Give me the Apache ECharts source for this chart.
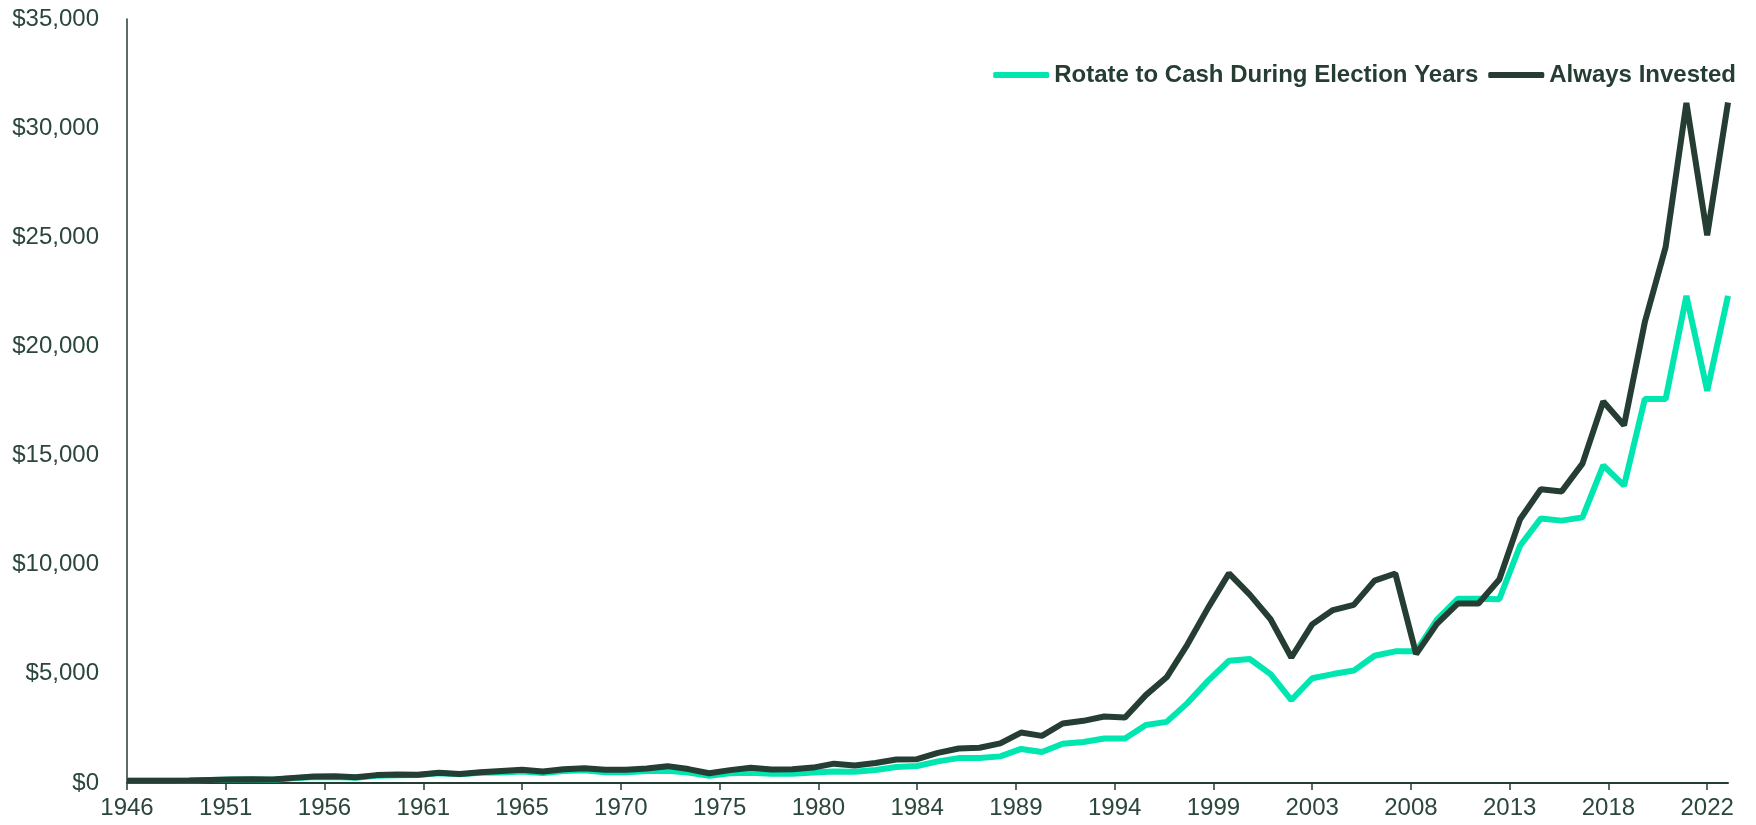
<!DOCTYPE html>
<html lang="en">
<head>
  <meta charset="UTF-8">
  <title>Rotate to Cash vs Always Invested</title>
  <script src="https://cdn.jsdelivr.net/npm/echarts@6/dist/echarts.min.js"></script>
  <style>
    html, body { margin: 0; padding: 0; background: #fff; }
    #chart { width: 1756px; height: 825px; }
  </style>
</head>
<body>
  <div id="chart"></div>
  <script>
    // years 1946..2023, year-end values
    var years = [];
    for (var y = 1946; y <= 2023; y++) years.push(y);

    var alwaysInvested = [
      100, 100, 99, 110, 133, 155, 174, 162, 235, 297,
      305, 261, 361, 391, 380, 468, 412, 490, 554, 604,
      525, 631, 679, 602, 602, 667, 772, 638, 448, 589,
      702, 622, 628, 706, 887, 801, 919, 1078, 1093, 1381,
      1583, 1615, 1815, 2310, 2158, 2726, 2848, 3049, 3002, 4026,
      4841, 6343, 8034, 9603, 8629, 7504, 5750, 7267, 7921, 8159,
      9270, 9597, 5904, 7288, 8220, 8220, 9322, 12081, 13457, 13359,
      14633, 17475, 16385, 21117, 24550, 31151, 25095, 31176
    ];

    var rotateToCash = [
      100, 100, 100, 110, 133, 155, 158, 147, 213, 269,
      276, 236, 327, 354, 364, 448, 395, 469, 485, 528,
      459, 552, 580, 495, 490, 545, 565, 475, 335, 450,
      475, 420, 420, 480, 530, 520, 600, 730, 780, 990,
      1140, 1150, 1220, 1560, 1420, 1800, 1880, 2040, 2040, 2660,
      2800, 3660, 4690, 5600, 5680, 4990, 3800, 4800, 4990, 5150,
      5830, 6030, 6030, 7480, 8440, 8440, 8420, 10870, 12120, 12020,
      12170, 14550, 13620, 17590, 17590, 22320, 17970, 22320
    ];

    // axis labels sit every 4.75 years, like the original date axis
    var xTickLabels = ['1946', '1951', '1956', '1961', '1965', '1970', '1975', '1980', '1984',
      '1989', '1994', '1999', '2003', '2008', '2013', '2018', '2022'];
    var xTickValues = xTickLabels.map(function (s, k) { return 1946 + 4.75 * k; });

    var darkGreen = '#253d33';
    var labelColor = '#2b463a';
    var teal = '#00e6b0';
    var font = '"Liberation Sans", Arial, sans-serif';

    function pairs(vals) {
      return years.map(function (yr, i) { return [yr, vals[i]]; });
    }

    var chart = echarts.init(document.getElementById('chart'));
    var option = {
      animation: false,
      backgroundColor: '#fff',
      grid: { left: 127, right: 28, top: 19, bottom: 42, containLabel: false },
      legend: {
        right: 15,
        top: 58,
        itemWidth: 56,
        itemHeight: 6,
        itemGap: 10,
        icon: 'roundRect',
        textStyle: { fontFamily: font, fontSize: 24, fontWeight: 'bold', color: darkGreen },
        data: ['Rotate to Cash During Election Years', 'Always Invested']
      },
      xAxis: {
        type: 'value',
        min: 1946,
        max: 2023,
        axisLine: { show: true, lineStyle: { color: darkGreen, width: 2 } },
        axisTick: { show: true, customValues: xTickValues, length: 7, lineStyle: { color: darkGreen, width: 1.5 } },
        splitLine: { show: false },
        axisLabel: {
          customValues: xTickValues,
          margin: 13,
          fontFamily: font,
          fontSize: 24,
          color: labelColor,
          formatter: function (v) {
            for (var k = 0; k < xTickValues.length; k++) {
              if (Math.abs(xTickValues[k] - v) < 0.01) return xTickLabels[k];
            }
            return '';
          }
        }
      },
      yAxis: {
        type: 'value',
        min: 0,
        max: 35000,
        interval: 5000,
        axisLine: { show: true, lineStyle: { color: darkGreen, width: 1.5 } },
        axisTick: { show: false },
        splitLine: { show: false },
        axisLabel: {
          margin: 28,
          fontFamily: font,
          fontSize: 24,
          color: labelColor,
          formatter: function (v) {
            return '$' + v.toString().replace(/\B(?=(\d{3})+(?!\d))/g, ',');
          }
        }
      },
      series: [
        {
          name: 'Rotate to Cash During Election Years',
          type: 'line',
          data: pairs(rotateToCash),
          symbol: 'none',
          lineStyle: { color: teal, width: 6 },
          itemStyle: { color: teal }
        },
        {
          name: 'Always Invested',
          type: 'line',
          data: pairs(alwaysInvested),
          symbol: 'none',
          lineStyle: { color: darkGreen, width: 6 },
          itemStyle: { color: darkGreen }
        }
      ]
    };
    chart.setOption(option);
  </script>
</body>
</html>
